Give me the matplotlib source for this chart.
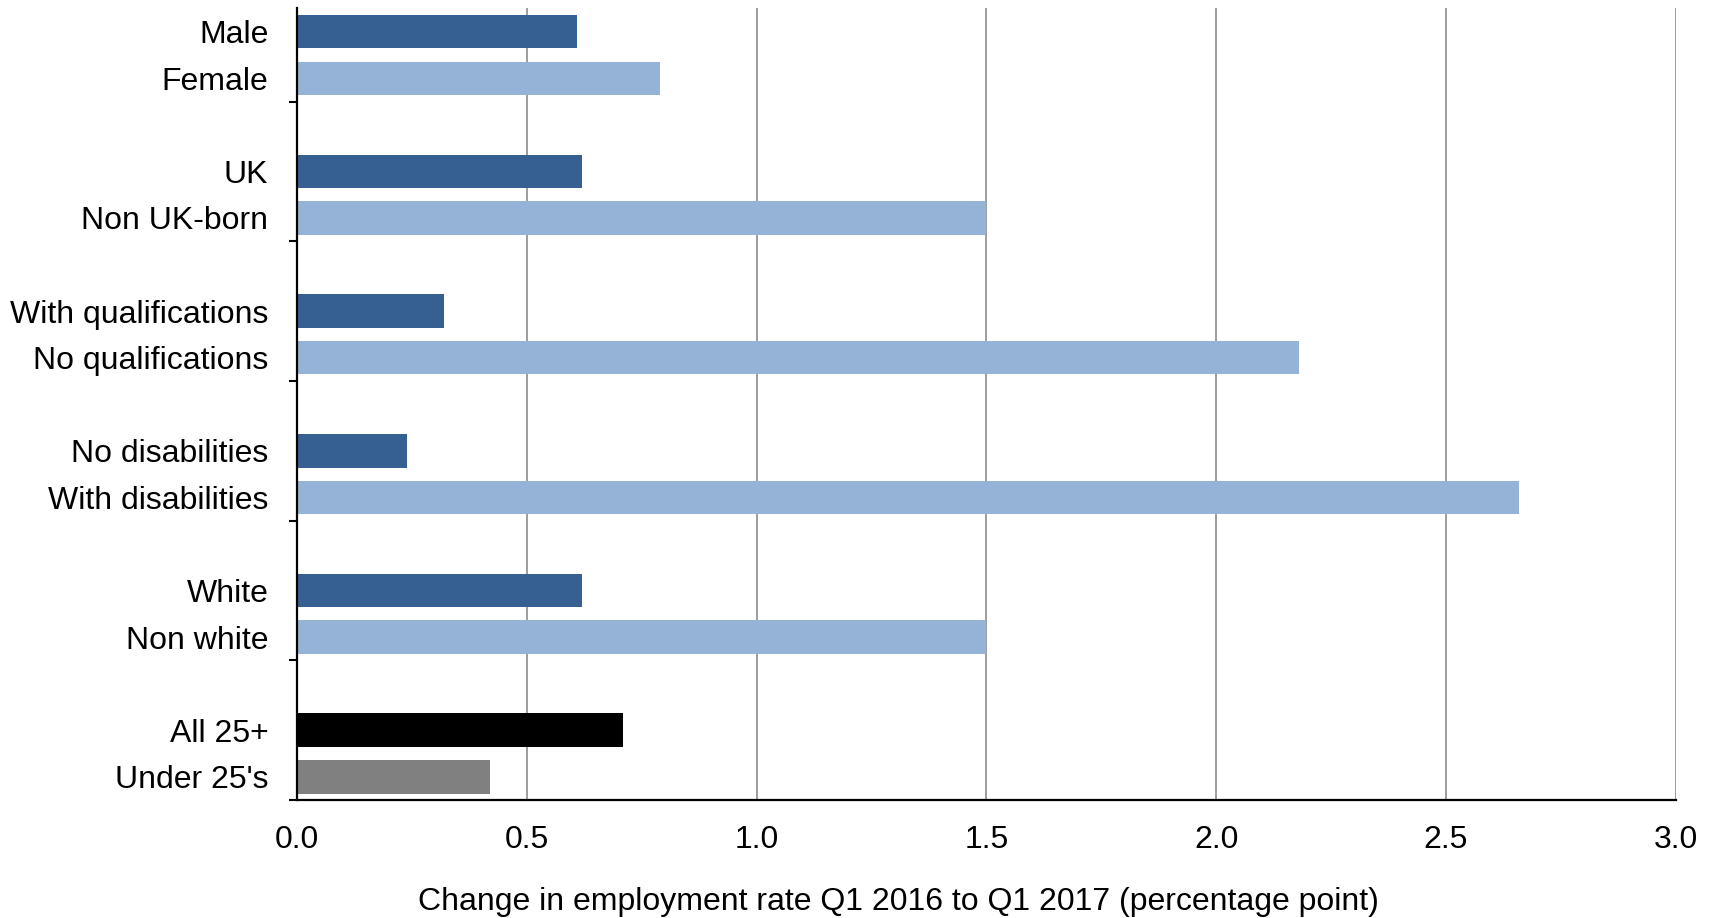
import matplotlib
matplotlib.use("Agg")
import matplotlib.pyplot as plt

plt.rcParams["font.family"] = ["Liberation Sans", "DejaVu Sans"]

# Pairs of groups compared, top to bottom
labels = [
    "Male", "Female",
    "UK", "Non UK-born",
    "With qualifications", "No qualifications",
    "No disabilities", "With disabilities",
    "White", "Non white",
    "All 25+", "Under 25's",
]
values = [0.61, 0.79, 0.62, 1.50, 0.32, 2.18, 0.24, 2.66, 0.62, 1.50, 0.71, 0.42]
bar_colors = [
    "#366092", "#95B3D7",
    "#366092", "#95B3D7",
    "#366092", "#95B3D7",
    "#366092", "#95B3D7",
    "#366092", "#95B3D7",
    "#000000", "#808080",
]
x_ticks = [0.0, 0.5, 1.0, 1.5, 2.0, 2.5, 3.0]
x_label = "Change in employment rate Q1 2016 to Q1 2017 (percentage point)"

# each group takes two slots, with one empty slot between groups
n_groups = len(labels) // 2
positions = [3 * (i // 2) + (i % 2) for i in range(len(labels))]
n_slots = 3 * n_groups - 1

fig = plt.figure(figsize=(17.16, 9.18), dpi=100)
ax = fig.add_axes([0.1732, 0.1285, 0.9764 - 0.1732, 0.9908 - 0.1285])

ax.barh(positions, values, height=0.72, color=bar_colors, zorder=3)

ax.set_xlim(0, 3.0)
ax.set_ylim(n_slots - 0.5, -0.5)
ax.set_xticks(x_ticks)
ax.set_xticklabels([f"{t:.1f}" for t in x_ticks], fontsize=23)
ax.tick_params(axis="x", length=0, pad=18)

# category labels as text, tick marks at the bottom of each group
for pos, lab in zip(positions, labels):
    ax.text(-0.021, pos, lab, ha="right", va="center_baseline", fontsize=23,
            transform=ax.get_yaxis_transform())
ax.set_yticks([3 * g + 1.5 for g in range(n_groups)])
ax.set_yticklabels([])
ax.tick_params(axis="y", length=6, width=1.5, direction="out", color="black")

for t in x_ticks[1:]:
    ax.axvline(t, color="#8c8c8c", linewidth=1.2, zorder=1)

for side in ("top", "right"):
    ax.spines[side].set_visible(False)
for side in ("left", "bottom"):
    ax.spines[side].set_linewidth(1.6)
    ax.spines[side].set_color("black")
    ax.spines[side].set_zorder(4)

fig.text(898 / 1716, 1 - 902 / 918, x_label, ha="center", va="center", fontsize=23)

fig.savefig("out.png", dpi=100)
